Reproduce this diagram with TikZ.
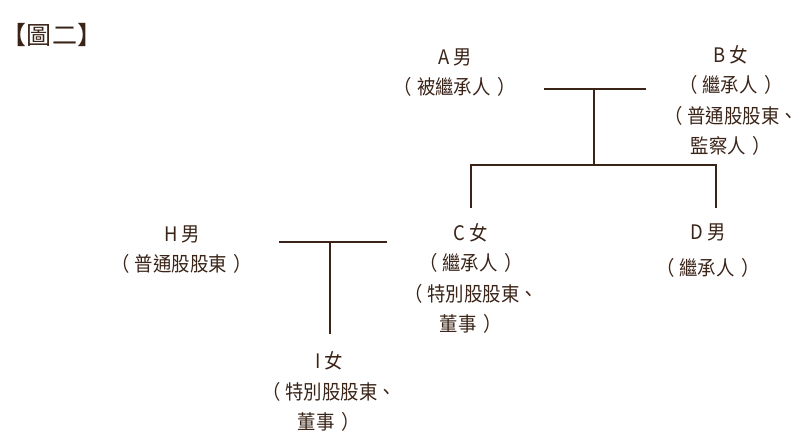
\documentclass[tikz,border=0pt]{standalone}
\usepackage{fontspec}
\setmainfont{Noto Sans CJK TC}
\newfontfamily\bodyfont[FakeStretch=0.92]{Noto Sans CJK TC}
\definecolor{ink}{RGB}{58,36,24}
\newcommand{\lpar}{（\hspace{5pt}}
\newcommand{\rpar}{\hspace{7pt}）}
\begin{document}
\begin{tikzpicture}[x=1pt,y=-1pt,
  every node/.style={text=ink, inner sep=0pt},
  person/.style={font=\bodyfont\fontsize{20}{30.5}\selectfont, align=center, anchor=base},
  link/.style={draw=ink, line width=2pt}]
\useasboundingbox (0,0) rectangle (812,439);
\node[font=\fontsize{25}{28}\selectfont, anchor=base] (title) at (52,44) {【圖\hspace{1pt}二】};
\node[person] (A) at (455,94.8) {A 男\\\lpar 被繼承人\rpar};
\node[person] (B) at (731,153.8) {B 女\\\lpar 繼承人\rpar\\\lpar 普通股股東、\\監察人\rpar};
\node[person] (H) at (182,271.8) {H 男\\\lpar 普通股股東\rpar};
\node[person] (C) at (471,331.8) {C 女\\\lpar 繼承人\rpar\\\lpar 特別股股東、\\董事\rpar};
\node[person] (D) at (708,275.8) {D 男\\[6pt]\lpar 繼承人\rpar};
\node[person] (I) at (329,429.8) {I 女\\\lpar 特別股股東、\\董事\rpar};
\coordinate (abL) at (544,89);
\coordinate (abR) at (646,89);
\coordinate (abM) at (594,89);
\coordinate (sibM) at (594,165);
\coordinate (sibL) at (471,165);
\coordinate (sibR) at (716,165);
\coordinate (cTop) at (471,208);
\coordinate (dTop) at (716,208);
\coordinate (hcL) at (279,242);
\coordinate (hcR) at (387,242);
\coordinate (hcM) at (330,242);
\coordinate (iTop) at (330,334);
\draw[link] (abL) -- (abR);
\draw[link] (abM) -- (sibM);
\draw[link] (cTop) -- (sibL) -- (sibR) -- (dTop);
\draw[link] (hcL) -- (hcR);
\draw[link] (hcM) -- (iTop);
\end{tikzpicture}
\end{document}
